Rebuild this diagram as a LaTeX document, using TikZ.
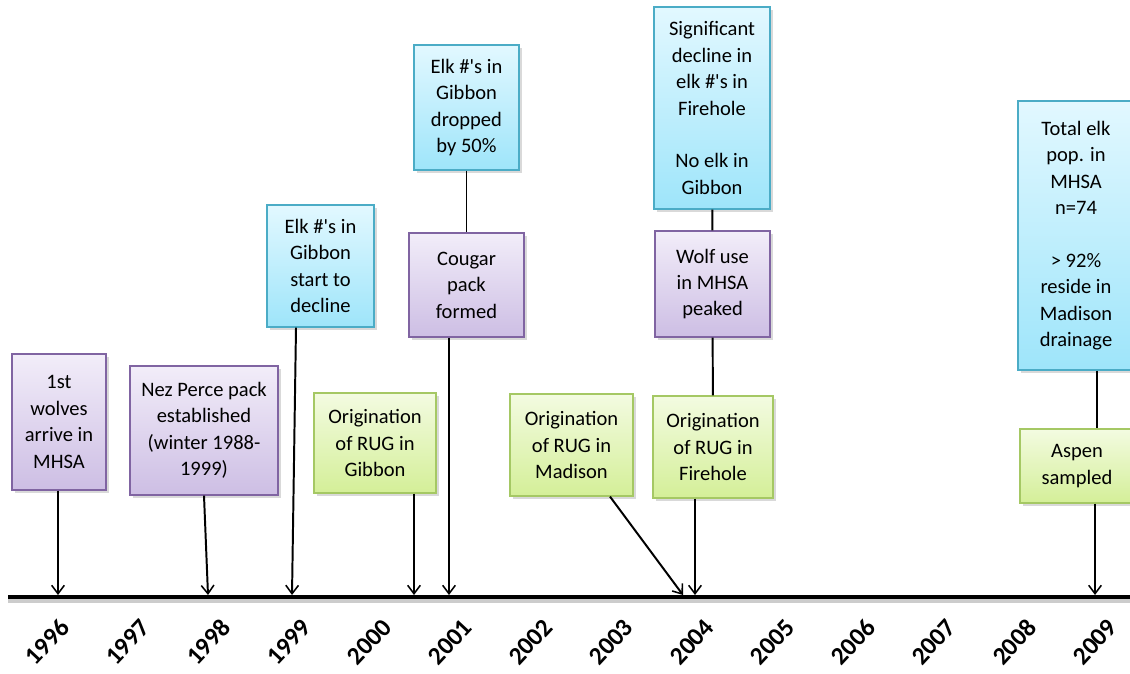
\documentclass[tikz,border=0pt]{standalone}
\usepackage{fontspec}
\setmainfont{Carlito}
\usetikzlibrary{arrows.meta, shadows, calc}

\definecolor{lilatop}{RGB}{242,237,249}
\definecolor{lilabot}{RGB}{205,190,228}
\definecolor{lilaborde}{RGB}{128,100,162}
\definecolor{azultop}{RGB}{226,248,255}
\definecolor{azulbot}{RGB}{158,229,250}
\definecolor{azulborde}{RGB}{75,172,198}
\definecolor{verdetop}{RGB}{243,251,225}
\definecolor{verdebot}{RGB}{212,239,152}
\definecolor{verdeborde}{RGB}{165,200,100}

\begin{document}
\begin{tikzpicture}[x=0.025cm, y=-0.025cm,
    caja/.style={line width=0.8pt, align=center, inner sep=2pt,
        font=\fontsize{14.6}{18.8}\selectfont,
        drop shadow={shadow xshift=2pt, shadow yshift=-2pt, opacity=0.3}},
    lila/.style={caja, draw=lilaborde, top color=lilatop, bottom color=lilabot},
    azul/.style={caja, draw=azulborde, top color=azultop, bottom color=azulbot},
    verde/.style={caja, draw=verdeborde, top color=verdetop, bottom color=verdebot},
    linea/.style={line width=1.4pt},
    flecha/.style={line width=1.4pt, -{Straight Barb[length=6pt, width=9pt, line width=1.1pt]}},
    anio/.style={font=\fontsize{18}{18}\bfseries\selectfont, rotate=47, inner sep=0pt}]
    \useasboundingbox (0,0) rectangle (1130,673);

    % Eje del tiempo
    \coordinate (ejeA) at (8,597);
    \coordinate (ejeB) at (1130,597);
    \draw[black!20, line width=3pt] ($(ejeA)+(0,4)$) -- ($(ejeB)+(0,4)$);
    \draw[line width=3pt] (ejeA) -- (ejeB);

    % Anios
    \foreach \a [count=\i from 0] in {1996,...,2009}
        \node[anio] (y\a) at (47+80.6*\i, 642) {\a};

    % Puntos sobre el eje
    \coordinate (t1996) at (58,595);
    \coordinate (t1998) at (208,595);
    \coordinate (t1999) at (292,595);
    \coordinate (t2000) at (414,595);
    \coordinate (t2001) at (449,595);
    \coordinate (t2004a) at (683,595);
    \coordinate (t2004) at (695,595);
    \coordinate (t2009) at (1095,595);

    % Cajas lila
    \node[lila, minimum width=2.35cm, minimum height=3.4cm] (lobos) at (59,422)
        {1st\\wolves\\arrive in\\MHSA};
    \node[lila, minimum width=3.7cm, minimum height=3.225cm] (nezperce) at (204,430.5)
        {Nez Perce pack\\established\\(winter 1988-\\1999)};
    \node[lila, minimum width=2.875cm, minimum height=2.6cm] (puma) at (466.5,285)
        {Cougar\\pack\\formed};
    \node[lila, minimum width=2.875cm, minimum height=2.65cm] (lobopico) at (712.5,284)
        {Wolf use\\in MHSA\\peaked};

    % Cajas azules
    \node[azul, minimum width=2.675cm, minimum height=3.05cm] (gibbondecl) at (320.5,266)
        {Elk \#\textquotesingle s in\\Gibbon\\start to\\decline};
    \node[azul, minimum width=2.625cm, minimum height=3.125cm] (gibbon50) at (466.5,107.5)
        {Elk \#\textquotesingle s in\\Gibbon\\dropped\\by 50\%};
    \node[azul, minimum width=2.9cm, minimum height=5.05cm] (declive) at (712,108)
        {Significant\\decline in\\elk \#\textquotesingle s in\\Firehole\\[18.8pt]No elk in\\Gibbon};
    \node[azul, minimum width=2.9cm, minimum height=6.725cm] (total) at (1076,235.5)
        {Total elk\\pop. in\\MHSA\\n=74\\[18.8pt]> 92\%\\reside in\\Madison\\drainage};

    % Cajas verdes
    \node[verde, minimum width=3.05cm, minimum height=2.5cm] (rugGibbon) at (375,443)
        {Origination\\of RUG in\\Gibbon};
    \node[verde, minimum width=3.075cm, minimum height=2.55cm] (rugMadison) at (571.5,445)
        {Origination\\of RUG in\\Madison};
    \node[verde, minimum width=3.0cm, minimum height=2.55cm] (rugFirehole) at (713,447)
        {Origination\\of RUG in\\Firehole};
    \node[verde, minimum width=2.85cm, minimum height=1.85cm] (alamo) at (1077,466)
        {Aspen\\sampled};

    % Conectores
    \draw[flecha] (lobos.south -| t1996) -- (t1996);
    \draw[flecha] (nezperce.south) -- (t1998);
    \draw[flecha] ($(gibbondecl.south)+(-24.5,0)$) -- (t1999);
    \draw[flecha] (rugGibbon.south -| t2000) -- (t2000);
    \draw[linea] (gibbon50) -- (puma);
    \draw[flecha] (puma.south -| t2001) -- (t2001);
    \draw[flecha] ($(rugMadison.south)+(38.5,0)$) -- (t2004a);
    \draw[linea] (declive) -- (lobopico);
    \draw[linea] (lobopico) -- (rugFirehole);
    \draw[flecha] (rugFirehole.south -| t2004) -- (t2004);
    \draw[linea] ($(total.south)+(21,0)$) -- ($(alamo.north)+(20,0)$);
    \draw[flecha] (alamo.south -| t2009) -- (t2009);
\end{tikzpicture}
\end{document}
